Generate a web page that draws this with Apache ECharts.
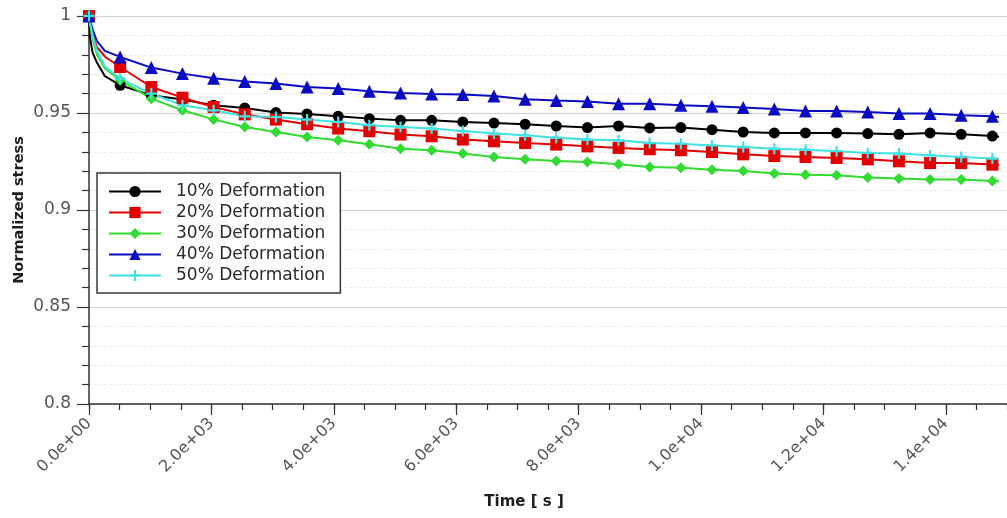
<!DOCTYPE html>
<html>
<head>
<meta charset="utf-8">
<script src="https://cdn.jsdelivr.net/npm/echarts@6/dist/echarts.min.js"></script>
<style>
  html, body { margin: 0; padding: 0; background: #ffffff; }
  #chart { width: 1007px; height: 518px; }
</style>
</head>
<body>
<div id="chart"></div>
<script>
// Relaxation time [s]; markers are drawn every MARK_STEP seconds
const MARK_STEP = 509;
const times = [0, 15, 60, 130, 260, 509, 1018, 1527, 2036, 2545, 3054, 3563, 4072, 4581, 5090,
  5599, 6108, 6617, 7126, 7635, 8144, 8653, 9162, 9671, 10180, 10689, 11198, 11707, 12216,
  12725, 13234, 13743, 14252, 14761, 14870];

// Normalized stress for each deformation level
const def10 = [1.000, 0.989, 0.981, 0.976, 0.969, 0.9643, 0.9591, 0.9569, 0.9540, 0.9526, 0.9502,
  0.9495, 0.9483, 0.9471, 0.9462, 0.9462, 0.9454, 0.9448, 0.9442, 0.9433, 0.9425, 0.9433, 0.9423,
  0.9425, 0.9414, 0.9402, 0.9397, 0.9397, 0.9397, 0.9394, 0.9390, 0.9397, 0.9390, 0.9381, 0.9378];
const def20 = [1.000, 0.997, 0.990, 0.984, 0.979, 0.9737, 0.9634, 0.9579, 0.9531, 0.9493, 0.9466,
  0.9442, 0.9420, 0.9406, 0.9389, 0.9380, 0.9363, 0.9354, 0.9345, 0.9337, 0.9328, 0.9320, 0.9313,
  0.9308, 0.9299, 0.9287, 0.9278, 0.9273, 0.9268, 0.9261, 0.9251, 0.9242, 0.9242, 0.9234, 0.9232];
const def30 = [1.000, 0.996, 0.988, 0.980, 0.973, 0.9669, 0.9574, 0.9514, 0.9467, 0.9428, 0.9402,
  0.9376, 0.9359, 0.9339, 0.9316, 0.9308, 0.9291, 0.9273, 0.9261, 0.9253, 0.9247, 0.9236, 0.9222,
  0.9218, 0.9208, 0.9201, 0.9188, 0.9182, 0.9179, 0.9167, 0.9162, 0.9157, 0.9157, 0.9149, 0.9148];
const def40 = [1.000, 0.998, 0.993, 0.987, 0.982, 0.9789, 0.9734, 0.9703, 0.9679, 0.9663, 0.9652,
  0.9634, 0.9626, 0.9612, 0.9603, 0.9598, 0.9595, 0.9588, 0.9571, 0.9564, 0.9559, 0.9548, 0.9548,
  0.9540, 0.9535, 0.9528, 0.9521, 0.9510, 0.9510, 0.9505, 0.9497, 0.9497, 0.9488, 0.9483, 0.9480];
const def50 = [1.000, 0.997, 0.990, 0.982, 0.974, 0.9677, 0.9600, 0.9540, 0.9514, 0.9483, 0.9479,
  0.9466, 0.9454, 0.9437, 0.9428, 0.9420, 0.9407, 0.9394, 0.9385, 0.9373, 0.9363, 0.9359, 0.9345,
  0.9342, 0.9333, 0.9325, 0.9316, 0.9311, 0.9303, 0.9294, 0.9291, 0.9282, 0.9273, 0.9265, 0.9263];

const seriesNames = ['10% Deformation', '20% Deformation', '30% Deformation', '40% Deformation', '50% Deformation'];
const yTitle = 'Normalized stress';
const xTitle = 'Time [ s ]';

const FONT = '"DejaVu Sans", sans-serif';
const PLUS = 'path://M-1,-5H1V-1H5V1H1V5H-1V1H-5V-1H-1Z';

// "2.0e+03" style tick labels
function sci(v) {
  if (v === 0) return '0.0e+00';
  const e = Math.floor(Math.log10(Math.abs(v)) + 1e-9);
  const m = v / Math.pow(10, e);
  const es = (e < 0 ? '-' : '+') + String(Math.abs(e)).padStart(2, '0');
  return m.toFixed(1) + 'e' + es;
}

function makeSeries(name, values, color, shape, size) {
  return {
    name: name,
    type: 'line',
    xAxisIndex: 0,
    color: color,
    symbol: shape,
    symbolSize: size,
    showAllSymbol: true,
    animation: false,
    emphasis: { disabled: true },
    lineStyle: { width: 2, color: color },
    itemStyle: { color: color },
    data: times.map((t, i) => (t % MARK_STEP === 0)
      ? [t, values[i]]
      : { value: [t, values[i]], symbol: 'none' })
  };
}

const chart = echarts.init(document.getElementById('chart'), null, { renderer: 'canvas' });

chart.setOption({
  backgroundColor: '#ffffff',
  animation: false,
  textStyle: { fontFamily: FONT },
  title: {
    text: xTitle,
    left: 519,
    top: 490,
    textAlign: 'center',
    textStyle: { fontFamily: FONT, fontSize: 15, fontWeight: 'bold', color: '#1e1e1e' }
  },
  grid: { left: 89, top: 16, right: -2, bottom: 114 },
  legend: {
    orient: 'vertical',
    left: 97,
    top: 173,
    padding: [10, 15, 9, 11],
    itemWidth: 52,
    itemHeight: 14,
    itemGap: 4,
    backgroundColor: '#ffffff',
    borderColor: '#3a3a3a',
    borderWidth: 1.5,
    borderRadius: 0,
    data: seriesNames,
    textStyle: { fontFamily: FONT, fontSize: 17, color: '#2a2a2a', padding: [0, 0, 0, 10] }
  },
  xAxis: [
    {
      type: 'value',
      min: 0,
      max: 15000,
      interval: 2000,
      axisLine: { show: true, lineStyle: { color: '#333333', width: 1.5 } },
      axisTick: { show: true, length: 11, lineStyle: { color: '#333333', width: 1.2 } },
      axisLabel: {
        rotate: 45,
        margin: 17,
        fontSize: 16,
        color: '#555555',
        fontFamily: FONT,
        showMaxLabel: false,
        formatter: sci
      },
      splitLine: { show: false }
    },
    {
      // finer 500 s tick marks along the time axis
      type: 'value',
      position: 'bottom',
      min: 0,
      max: 15000,
      interval: 500,
      axisLine: { show: false },
      axisTick: { show: true, length: 6, lineStyle: { color: '#333333', width: 1.2 } },
      axisLabel: { show: false },
      splitLine: { show: false }
    }
  ],
  yAxis: {
    type: 'value',
    min: 0.8,
    max: 1,
    interval: 0.05,
    name: yTitle,
    nameLocation: 'middle',
    nameGap: 62,
    nameMoveOverlap: false,
    nameRotate: 90,
    nameTextStyle: { fontFamily: FONT, fontSize: 14.5, fontWeight: 'bold', color: '#1e1e1e' },
    axisLine: { show: true, lineStyle: { color: '#333333', width: 1.5 } },
    axisTick: { show: true, length: 12, lineStyle: { color: '#333333', width: 1.2 } },
    minorTick: { show: true, splitNumber: 5, length: 7, lineStyle: { color: '#333333', width: 1.2 } },
    axisLabel: { margin: 18, fontSize: 17, color: '#555555', fontFamily: FONT },
    splitLine: { show: true, lineStyle: { color: '#d2d2d2', width: 1 } },
    minorSplitLine: { show: true, lineStyle: { color: '#ebebeb', width: 1, type: [3, 2] } }
  },
  series: [
    makeSeries(seriesNames[0], def10, '#000000', 'circle', 11),
    makeSeries(seriesNames[1], def20, '#e30000', 'rect', 12),
    makeSeries(seriesNames[2], def30, '#2fdc2f', 'diamond', 11),
    makeSeries(seriesNames[3], def40, '#0b0bc4', 'triangle', 13),
    makeSeries(seriesNames[4], def50, '#3fe3e3', PLUS, 11)
  ]
});
</script>
</body>
</html>
